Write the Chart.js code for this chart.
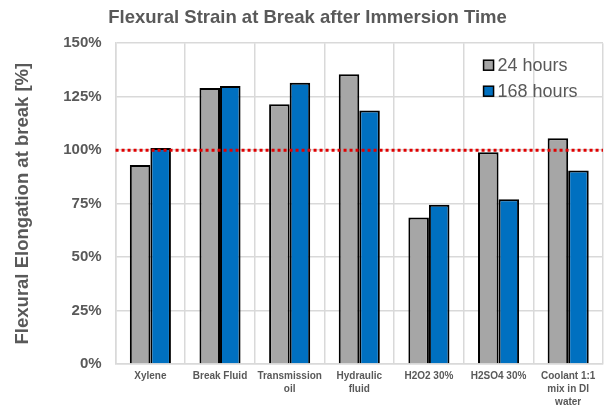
<!DOCTYPE html>
<html>
<head>
<meta charset="utf-8">
<script src="https://cdn.jsdelivr.net/npm/chart.js@4/dist/chart.umd.min.js"></script>
<style>
    html, body { margin: 0; padding: 0; background: #fff; overflow: hidden; }
    #wrap { width: 605px; height: 405px; overflow: hidden; }
</style>
</head>
<body>
<div id="wrap"><canvas id="chart" width="605" height="410"></canvas></div>
<script>
// Chart data
const categories = [
    'Xylene',
    'Break Fluid',
    ['Transmission', 'oil'],
    ['Hydraulic', 'fluid'],
    'H2O2 30%',
    'H2SO4 30%',
    ['Coolant 1:1', 'mix in DI', 'water']
];
const hours24 = [93, 129, 121.5, 135.5, 68.5, 99, 105.5];
const hours168 = [101, 130, 131.5, 118.5, 74.5, 77, 90.5];
const seriesLabels = ['24 hours', '168 hours'];
const referenceLine = 100;

const grey = '#595959';
const fontFamily = '"Liberation Sans", Arial, sans-serif';

// Red dotted line at 100%
const refLinePlugin = {
    id: 'refLine',
    afterDatasetsDraw(chart) {
        const { ctx, chartArea, scales } = chart;
        const y = scales.y.getPixelForValue(referenceLine);
        ctx.save();
        ctx.strokeStyle = '#e00000';
        ctx.lineWidth = 3;
        ctx.setLineDash([3, 3]);
        ctx.beginPath();
        ctx.moveTo(chartArea.left, y);
        ctx.lineTo(chartArea.right, y);
        ctx.stroke();
        ctx.restore();
    }
};

// Legend drawn inside the plot, top right
const innerLegendPlugin = {
    id: 'innerLegend',
    afterDraw(chart) {
        const { ctx, chartArea } = chart;
        const x = chartArea.left + 368;
        let y = chartArea.top + 22;
        ctx.save();
        ctx.font = '18px ' + fontFamily;
        ctx.textBaseline = 'middle';
        chart.data.datasets.forEach(ds => {
            ctx.fillStyle = ds.backgroundColor;
            ctx.fillRect(x, y - 5, 10, 10);
            ctx.strokeStyle = '#000';
            ctx.lineWidth = 1.5;
            ctx.strokeRect(x, y - 5, 10, 10);
            ctx.fillStyle = grey;
            ctx.fillText(ds.label, x + 14, y + 1);
            y += 26;
        });
        ctx.restore();
    }
};

const ctx = document.getElementById('chart').getContext('2d');
new Chart(ctx, {
    type: 'bar',
    data: {
        labels: categories,
        datasets: [{
            label: seriesLabels[0],
            data: hours24,
            backgroundColor: '#a6a6a6',
            borderColor: '#000',
            borderWidth: 2,
            borderSkipped: 'bottom'
        }, {
            label: seriesLabels[1],
            data: hours168,
            backgroundColor: '#0070c0',
            borderColor: '#000',
            borderWidth: 2,
            borderSkipped: 'bottom'
        }]
    },
    options: {
        responsive: false,
        animation: false,
        layout: {
            padding: { left: 12, right: 2, top: 5, bottom: -5 }
        },
        datasets: {
            bar: {
                barPercentage: 1,
                categoryPercentage: 0.59
            }
        },
        plugins: {
            legend: { display: false },
            tooltip: { enabled: false },
            title: {
                display: true,
                text: 'Flexural Strain at Break after Immersion Time',
                color: grey,
                font: { family: fontFamily, size: 18.5, weight: 'bold' },
                padding: { top: 2, bottom: 14 }
            }
        },
        scales: {
            x: {
                grid: {
                    color: '#d9d9d9',
                    lineWidth: 1.5,
                    drawTicks: false
                },
                border: { color: '#d9d9d9', width: 1.5 },
                ticks: {
                    color: grey,
                    padding: 6,
                    maxRotation: 0,
                    autoSkip: false,
                    font: { family: fontFamily, size: 10, weight: 'bold', lineHeight: 1.3 }
                }
            },
            y: {
                min: 0,
                max: 150,
                grid: {
                    color: '#d9d9d9',
                    lineWidth: 1.5,
                    drawTicks: false
                },
                border: { color: '#d9d9d9', width: 1.5 },
                ticks: {
                    stepSize: 25,
                    color: grey,
                    padding: 14,
                    font: { family: fontFamily, size: 15, weight: 'bold' },
                    callback: value => value + '%'
                },
                title: {
                    display: true,
                    text: 'Flexural Elongation at break [%]',
                    color: grey,
                    font: { family: fontFamily, size: 18.5, weight: 'bold' },
                    padding: { top: 0, bottom: 15 }
                }
            }
        }
    },
    plugins: [refLinePlugin, innerLegendPlugin]
});
</script>
</body>
</html>
